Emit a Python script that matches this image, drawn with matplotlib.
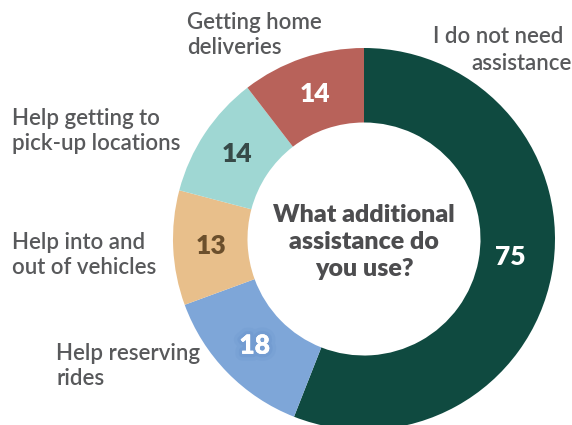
import matplotlib.pyplot as plt
import matplotlib.patheffects as pe

# survey answers, clockwise from the top
categories = ['I do not need assistance', 'Help reserving rides', 'Help into and out of vehicles',
              'Help getting to pick-up locations', 'Getting home deliveries']
counts = [75, 18, 13, 14, 14]
colors = ['#0f4a40', '#7ea6d8', '#e8bf8b', '#9fd7d3', '#b8625a']
num_colors = ['white', 'white', '#6b4f2c', '#374a48', 'white']

plt.rcParams['font.family'] = ['Lato', 'DejaVu Sans']

fig = plt.figure(figsize=(5.72, 4.25), dpi=100)
ax = fig.add_axes([0, 0, 1, 1])

cx, cy, r = 364, 239, 191
wedges, texts, autotexts = ax.pie(counts, colors=colors, startangle=-90, counterclock=True,
                                  center=(cx, cy), radius=r, frame=True,
                                  wedgeprops=dict(width=r * 0.39, linewidth=0),
                                  autopct=lambda p: '%d' % round(p * sum(counts) / 100),
                                  pctdistance=0.8)
ax.set_xlim(0, 572)
ax.set_ylim(425, 0)
ax.set_aspect('equal')
ax.axis('off')

for t, c in zip(autotexts, num_colors):
    t.set_color(c)
    t.set_fontsize(19)
    t.set_fontweight(800)
# soft glow behind the 18
autotexts[1].set_path_effects([pe.withStroke(linewidth=10, foreground='#5b86c4', alpha=0.12),
                               pe.withStroke(linewidth=5, foreground='#5b86c4', alpha=0.18),
                               pe.Normal()])
# nudge the big value a little up like the original
autotexts[0].set_position((cx + 146, cy + 18))

ax.text(cx, 242, 'What additional\nassistance do\nyou use?', ha='center', va='center',
        fontsize=18, fontweight=800, color='#4d4d4f', linespacing=1.28)

lab = dict(fontsize=16, color='#58595b', fontweight=600, va='center', linespacing=1.2)
ax.text(187, 35, 'Getting home\ndeliveries', ha='left', **lab)
ax.text(433, 36, 'I do not need', ha='left', **lab)
ax.text(471, 63, 'assistance', ha='left', **lab)
ax.text(12, 131, 'Help getting to\npick-up locations', ha='left', **lab)
ax.text(12, 255, 'Help into and\nout of vehicles', ha='left', **lab)
ax.text(56, 366, 'Help reserving\nrides', ha='left', **lab)

fig.savefig('out.png', dpi=100)
